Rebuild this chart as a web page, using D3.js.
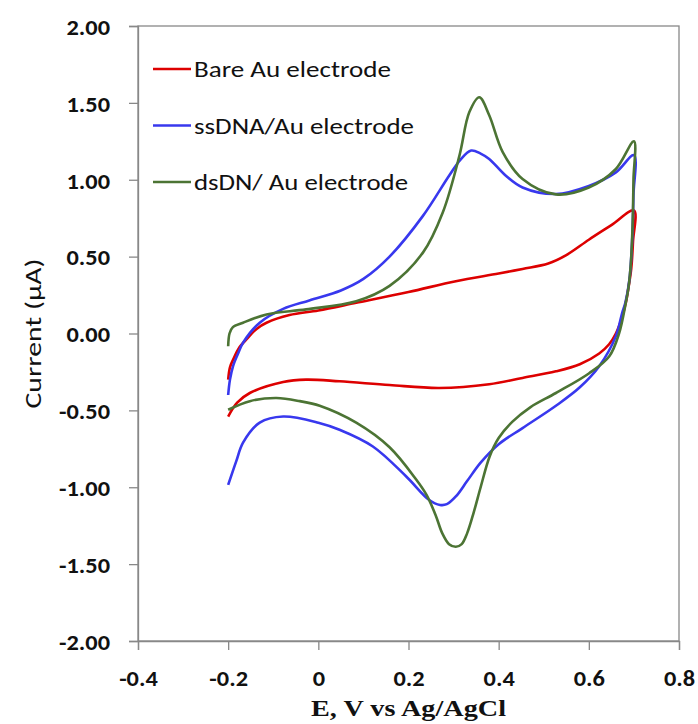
<!DOCTYPE html>
<html>
<head>
<meta charset="utf-8">
<script src="https://cdn.jsdelivr.net/npm/d3@7"></script>
<style>
  body { margin: 0; background: #fff; }
  svg { display: block; }
</style>
</head>
<body>
<div id="chart"></div>
<script>
const width = 698;
const height = 724;
const margin = { top: 26, right: 19, bottom: 83, left: 138 };

// cyclic voltammograms, [E (V), I (uA)], forward scan then reverse scan
const bareAu = [
  [-0.2, -0.30], [-0.196, -0.22], [-0.189, -0.17], [-0.175, -0.09], [-0.16, -0.04],
  [-0.137, 0.03], [-0.115, 0.07], [-0.064, 0.12], [0.0, 0.15], [0.084, 0.20],
  [0.2, 0.27], [0.305, 0.34], [0.40, 0.39], [0.453, 0.42], [0.51, 0.455],
  [0.55, 0.51], [0.60, 0.61], [0.65, 0.705], [0.70, 0.80],
  [0.698, 0.6], [0.694, 0.42], [0.688, 0.3], [0.682, 0.2], [0.672, 0.09],
  [0.66, 0.0], [0.645, -0.07], [0.623, -0.13], [0.58, -0.2], [0.527, -0.246],
  [0.453, -0.289], [0.379, -0.33], [0.268, -0.354], [0.158, -0.335], [0.047, -0.311],
  [-0.027, -0.30], [-0.078, -0.315], [-0.152, -0.387], [-0.18, -0.45], [-0.2, -0.54]
];

const ssDnaAu = [
  [-0.2, -0.40], [-0.196, -0.3], [-0.189, -0.21], [-0.178, -0.13], [-0.167, -0.06],
  [-0.13, 0.07], [-0.078, 0.16], [-0.02, 0.215], [0.05, 0.28], [0.10, 0.355],
  [0.158, 0.50], [0.232, 0.765], [0.29, 1.026], [0.315, 1.13], [0.339, 1.19],
  [0.36, 1.17], [0.379, 1.135], [0.416, 1.026], [0.453, 0.95], [0.527, 0.907],
  [0.60, 0.96], [0.66, 1.048], [0.70, 1.16],
  [0.699, 0.9], [0.696, 0.6], [0.69, 0.35], [0.681, 0.2], [0.674, 0.135],
  [0.66, -0.017], [0.623, -0.213], [0.58, -0.35], [0.527, -0.47], [0.453, -0.615],
  [0.40, -0.72], [0.36, -0.84], [0.33, -0.96], [0.305, -1.06], [0.285, -1.11],
  [0.27, -1.115], [0.246, -1.083], [0.195, -0.93], [0.121, -0.735], [0.047, -0.626],
  [0.0, -0.58], [-0.078, -0.54], [-0.13, -0.58], [-0.167, -0.71], [-0.182, -0.83],
  [-0.2, -0.985]
];

const dsDnaAu = [
  [-0.2, -0.083], [-0.197, 0.0], [-0.19, 0.04], [-0.167, 0.07], [-0.115, 0.124],
  [-0.027, 0.157], [0.084, 0.21], [0.158, 0.31], [0.232, 0.526], [0.276, 0.787],
  [0.313, 1.157], [0.335, 1.44], [0.357, 1.537], [0.379, 1.42], [0.409, 1.18],
  [0.453, 1.005], [0.527, 0.905], [0.60, 0.95], [0.66, 1.07], [0.70, 1.25],
  [0.699, 1.0], [0.697, 0.7], [0.693, 0.45], [0.688, 0.3], [0.682, 0.2],
  [0.667, 0.0], [0.645, -0.15], [0.60, -0.26], [0.527, -0.387], [0.47, -0.48],
  [0.43, -0.575], [0.40, -0.68], [0.38, -0.80], [0.36, -1.0], [0.345, -1.16],
  [0.33, -1.30], [0.318, -1.37], [0.305, -1.387], [0.29, -1.37], [0.275, -1.30],
  [0.26, -1.18], [0.24, -1.05], [0.217, -0.95], [0.158, -0.74], [0.084, -0.58],
  [0.003, -0.47], [-0.041, -0.44], [-0.093, -0.42], [-0.152, -0.44], [-0.2, -0.496]
];

const seriesNames = ['Bare Au electrode', 'ssDNA/Au electrode', 'dsDN/ Au electrode'];
const seriesColors = ['#dd0000', '#3838ee', '#4c7434'];
const xTicks = [-0.4, -0.2, 0, 0.2, 0.4, 0.6, 0.8];
const yTicks = [-2, -1.5, -1, -0.5, 0, 0.5, 1, 1.5, 2];

const allSeries = [bareAu, ssDnaAu, dsDnaAu];

const svg = d3.select('#chart').append('svg')
  .attr('width', width)
  .attr('height', height);

const x = d3.scaleLinear()
  .domain([-0.4, 0.8])
  .range([margin.left, width - margin.right]);

const y = d3.scaleLinear()
  .domain([-2, 2])
  .range([height - margin.bottom, margin.top]);

const sans = 'Calibri, Carlito, Lato, sans-serif';
const stretch = 1.06;
const hyphen = s => s.replace('\u2212', '-');

// plot box (top and right edges)
svg.append('rect')
  .attr('x', x(-0.4))
  .attr('y', y(2))
  .attr('width', x(0.8) - x(-0.4))
  .attr('height', y(-2) - y(2))
  .attr('fill', 'none')
  .attr('stroke', '#888')
  .attr('stroke-width', 1.3);

const xAxis = svg.append('g')
  .attr('transform', `translate(0,${y(-2)})`)
  .call(d3.axisBottom(x).tickValues(xTicks).tickSize(9)
    .tickFormat(d => d === 0 ? '0' : hyphen(d3.format('.1f')(d))));

const yAxis = svg.append('g')
  .attr('transform', `translate(${x(-0.4)},0)`)
  .call(d3.axisLeft(y).tickValues(yTicks).tickSize(9)
    .tickFormat(d => hyphen(d3.format('.2f')(d))));

[xAxis, yAxis].forEach(g => {
  g.select('.domain').attr('stroke', '#888').attr('stroke-width', 1.3);
  g.selectAll('.tick line').attr('stroke', '#888').attr('stroke-width', 1.3);
  g.selectAll('.tick text')
    .attr('fill', '#111')
    .style('font-family', sans)
    .style('font-weight', 'bold')
    .style('font-size', '23px');
});
xAxis.selectAll('.tick text')
  .attr('x', 0)
  .attr('y', 0)
  .attr('dy', 0)
  .attr('transform', `translate(0,45) scale(${stretch},1)`);
yAxis.selectAll('.tick text')
  .attr('x', 0)
  .attr('dy', '0.36em')
  .attr('transform', `translate(-28,0) scale(${stretch},1)`);

// axis titles
svg.append('text')
  .attr('x', x(0.2))
  .attr('y', 716)
  .attr('text-anchor', 'middle')
  .attr('textLength', 195)
  .attr('lengthAdjust', 'spacingAndGlyphs')
  .style('font-family', '"Liberation Serif", "Times New Roman", serif')
  .style('font-weight', 'bold')
  .style('font-size', '23px')
  .attr('fill', '#111')
  .text('E, V vs Ag/AgCl');

svg.append('text')
  .attr('transform', `translate(33,${y(0)}) rotate(-90)`)
  .attr('text-anchor', 'middle')
  .attr('dy', '0.35em')
  .attr('textLength', 150)
  .attr('lengthAdjust', 'spacingAndGlyphs')
  .style('font-family', sans)
  .style('font-size', '22px')
  .attr('fill', '#111')
  .text('Current (\u03bcA)');

// curves
const line = d3.line()
  .x(d => x(d[0]))
  .y(d => y(d[1]))
  .curve(d3.curveCatmullRom.alpha(0.5));

svg.append('g')
  .selectAll('path')
  .data(allSeries)
  .join('path')
  .attr('d', line)
  .attr('fill', 'none')
  .attr('stroke', (d, i) => seriesColors[i])
  .attr('stroke-width', 2.6)
  .attr('stroke-linejoin', 'round');

// legend
const legendWidths = [197, 220, 214];

const legend = svg.append('g')
  .selectAll('g')
  .data(seriesNames)
  .join('g')
  .attr('transform', (d, i) => `translate(153,${69 + i * 56.5})`);

legend.append('line')
  .attr('x1', 0)
  .attr('x2', 38)
  .attr('stroke', (d, i) => seriesColors[i])
  .attr('stroke-width', 2.6);

legend.append('text')
  .attr('x', 41)
  .attr('dy', '0.35em')
  .attr('textLength', (d, i) => legendWidths[i])
  .attr('lengthAdjust', 'spacingAndGlyphs')
  .style('font-family', sans)
  .style('font-size', '23px')
  .attr('fill', '#111')
  .text(d => d);
</script>
</body>
</html>
